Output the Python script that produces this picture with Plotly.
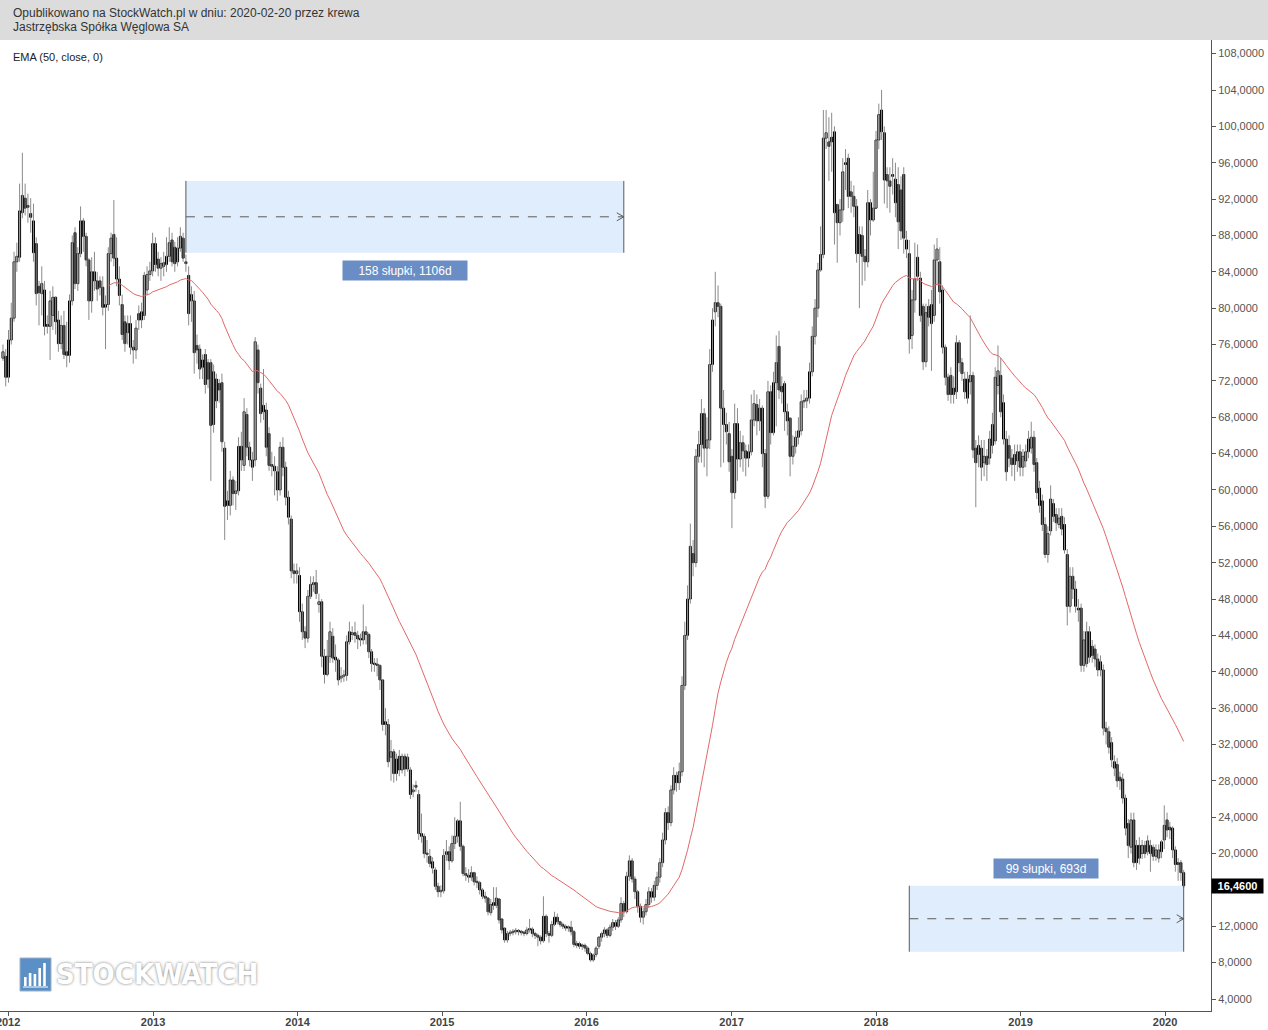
import pandas as pd
import plotly.graph_objects as go

# ---------------- data (weekly bars, JSW) ----------------
start_date = "2011-12-19"

opens = [
74.5, 74.7, 72.4, 76.5, 78.9, 85.1, 85.6, 90.5, 92.1, 91.3,
90.4, 89.6, 87.1, 82.4, 81.6, 82.0, 78.2, 78.0, 79.2, 81.2,
78.7, 76.1, 78.1, 75.2, 74.8, 80.8, 88.3, 82.7, 86.0, 89.6,
87.9, 85.3, 80.8, 84.0, 83.0, 83.0, 82.3, 80.1, 80.4, 86.0,
88.1, 85.5, 83.2, 80.4, 78.5, 77.3, 78.3, 75.7, 75.4, 79.4,
78.7, 79.2, 82.0, 83.7, 84.1, 87.1, 85.4, 84.4, 84.6, 84.8,
85.7, 87.5, 86.7, 85.1, 86.6, 87.7, 85.1, 83.6, 80.8, 80.8,
75.9, 75.5, 74.3, 74.9, 74.0, 74.0, 67.2, 72.2, 71.7, 71.8,
64.6, 58.8, 58.3, 61.1, 59.6, 59.9, 64.8, 62.7, 68.3, 64.7,
63.3, 63.3, 75.4, 71.2, 69.3, 68.8, 66.2, 62.8, 62.6, 62.0,
60.0, 64.7, 62.5, 59.2, 56.8, 51.1, 50.8, 50.6, 46.6, 44.4,
43.7, 48.3, 49.6, 49.8, 47.4, 47.7, 41.7, 39.7, 41.7, 43.9,
41.6, 41.3, 39.3, 39.5, 39.6, 43.3, 44.1, 44.3, 44.0, 43.6,
43.5, 44.4, 44.1, 42.2, 40.9, 40.8, 40.7, 39.1, 34.5, 34.2,
30.6, 31.2, 28.8, 30.7, 29.2, 30.7, 29.3, 29.2, 26.8, 27.5,
26.5, 22.2, 21.9, 20.0, 19.7, 19.1, 18.2, 16.4, 15.8, 15.9,
19.9, 20.2, 19.2, 21.1, 21.9, 23.6, 20.8, 17.8, 17.6, 17.4,
17.9, 16.9, 16.8, 16.0, 15.3, 15.1, 13.5, 14.6, 14.3, 15.0,
12.8, 11.8, 10.5, 11.2, 11.3, 11.4, 11.5, 11.4, 11.3, 11.2,
11.6, 11.7, 11.2, 11.0, 10.8, 10.4, 13.1, 11.2, 11.0, 12.2,
13.0, 12.5, 12.2, 12.0, 11.8, 11.9, 11.4, 10.1, 10.1, 9.9,
9.9, 9.6, 9.0, 8.3, 8.9, 9.8, 10.8, 11.2, 11.6, 11.0,
11.9, 12.4, 12.0, 12.7, 14.5, 13.6, 17.5, 19.2, 17.2, 15.8,
14.2, 13.0, 13.6, 14.4, 15.8, 15.2, 16.5, 17.4, 19.0, 21.5,
24.5, 23.4, 27.0, 28.6, 27.8, 29.0, 38.5, 44.0, 48.0, 53.0,
52.0, 63.7, 65.0, 68.4, 64.6, 65.5, 73.8, 79.6, 80.6, 80.2,
69.0, 67.2, 66.2, 63.7, 59.7, 67.3, 63.4, 65.2, 64.3, 63.5,
64.2, 67.7, 69.4, 67.6, 69.0, 64.0, 59.3, 70.8, 66.3, 71.8,
75.8, 71.4, 71.7, 68.6, 67.9, 63.7, 64.8, 65.8, 66.5, 69.7,
69.8, 70.1, 73.0, 76.9, 80.0, 84.2, 85.9, 98.7, 98.3, 98.8,
99.4, 91.4, 89.4, 90.8, 96.0, 96.5, 92.8, 92.3, 91.2, 88.1,
88.0, 85.7, 85.1, 91.6, 89.7, 91.0, 98.5, 101.8, 99.3, 94.7,
94.0, 94.7, 94.2, 93.6, 93.0, 94.7, 87.5, 86.0, 77.0, 80.9,
85.6, 83.3, 80.2, 74.1, 80.2, 78.3, 79.2, 85.3, 85.1, 82.0,
75.7, 72.4, 72.6, 71.2, 70.8, 76.2, 74.0, 72.2, 72.2, 71.9,
72.6, 64.6, 63.9, 64.6, 63.0, 63.7, 63.5, 64.9, 65.4, 71.5,
72.6, 69.6, 65.6, 64.9, 63.5, 62.8, 63.2, 64.2, 62.5, 63.2,
64.2, 64.6, 65.8, 63.0, 60.2, 58.8, 56.2, 52.9, 55.5, 58.5,
57.3, 56.2, 57.1, 56.2, 52.9, 47.2, 50.5, 49.1, 47.0, 47.0,
40.7, 40.9, 44.4, 42.8, 42.5, 41.4, 41.1, 40.2, 33.8, 33.4,
32.2, 30.1, 29.8, 28.4, 28.2, 26.1, 23.3, 20.7, 23.7, 20.9,
20.9, 20.0, 20.9, 20.2, 20.0, 20.7, 19.7, 19.5, 20.2, 21.5,
23.7, 22.9, 22.8, 20.4, 19.0, 19.0, 17.9,
]

highs = [
76.0, 75.5, 77.6, 80.6, 86.2, 87.2, 93.7, 97.1, 93.7, 92.6,
92.1, 91.5, 87.8, 83.0, 84.6, 83.0, 79.2, 81.9, 82.4, 81.3,
79.7, 79.2, 79.7, 78.5, 81.5, 88.0, 88.9, 86.7, 91.2, 89.9,
88.3, 85.5, 85.6, 86.2, 84.0, 83.5, 83.5, 81.4, 86.7, 88.3,
91.9, 87.8, 84.6, 81.5, 79.2, 79.2, 79.2, 76.5, 78.7, 80.3,
80.6, 84.0, 84.6, 85.1, 88.3, 87.8, 86.2, 85.6, 86.2, 87.8,
88.9, 88.3, 87.3, 87.8, 88.9, 88.3, 85.9, 84.6, 82.4, 81.9,
77.1, 76.0, 74.9, 75.5, 74.4, 74.4, 73.8, 72.8, 72.2, 72.8,
65.3, 59.9, 62.1, 61.5, 61.0, 65.8, 66.4, 70.1, 69.0, 65.3,
64.2, 76.8, 76.0, 71.7, 73.3, 69.6, 66.9, 64.2, 63.7, 62.6,
65.3, 65.8, 63.1, 59.9, 57.2, 51.9, 51.9, 51.5, 47.5, 45.0,
49.0, 50.5, 50.5, 51.2, 48.6, 48.0, 42.5, 43.5, 45.5, 44.8,
43.0, 41.5, 40.5, 40.2, 44.0, 45.5, 45.0, 45.5, 44.5, 44.2,
47.4, 45.0, 44.3, 42.5, 41.5, 41.5, 40.8, 39.2, 36.0, 34.8,
32.5, 31.5, 31.0, 31.4, 31.0, 31.0, 31.0, 29.5, 27.6, 28.0,
27.0, 24.4, 22.2, 21.5, 20.5, 19.6, 18.5, 16.8, 16.5, 20.5,
21.5, 20.8, 22.0, 24.0, 23.8, 25.7, 21.0, 18.5, 18.3, 18.6,
18.0, 17.5, 17.0, 16.2, 15.8, 15.2, 15.0, 16.3, 16.3, 15.0,
12.8, 11.8, 11.5, 11.6, 11.7, 11.8, 11.7, 11.6, 11.5, 11.9,
12.8, 11.9, 11.4, 11.2, 11.0, 15.3, 13.3, 11.5, 12.6, 13.6,
13.4, 12.6, 12.4, 12.2, 12.1, 12.6, 11.6, 10.4, 10.3, 10.1,
10.1, 9.8, 9.2, 9.0, 9.8, 10.9, 11.4, 11.9, 11.8, 12.2,
12.8, 12.7, 13.0, 15.2, 14.8, 18.0, 19.8, 19.5, 17.5, 16.0,
14.5, 14.0, 15.0, 16.3, 16.2, 17.0, 18.0, 19.5, 22.3, 25.0,
25.2, 27.5, 29.5, 29.0, 30.0, 39.5, 45.5, 49.5, 56.3, 54.5,
64.5, 66.5, 70.0, 69.0, 68.0, 75.5, 80.0, 84.0, 82.5, 80.5,
71.0, 68.5, 67.5, 64.5, 69.5, 69.0, 66.5, 66.0, 65.0, 65.0,
70.5, 71.0, 70.5, 70.0, 69.3, 64.5, 72.0, 71.5, 73.0, 77.0,
77.5, 72.5, 72.0, 69.5, 68.0, 66.0, 66.5, 68.0, 70.5, 71.0,
71.0, 74.0, 78.0, 81.0, 85.0, 89.0, 101.8, 101.8, 101.0, 101.5,
100.0, 91.5, 92.0, 96.5, 97.5, 97.0, 94.0, 93.5, 92.0, 89.0,
89.0, 86.5, 93.0, 92.0, 95.0, 99.5, 102.5, 104.0, 100.0, 95.5,
95.5, 96.5, 96.0, 95.5, 94.5, 95.5, 88.5, 87.5, 82.0, 87.2,
87.0, 84.0, 80.5, 80.5, 81.0, 82.0, 87.0, 87.7, 86.7, 82.5,
76.0, 72.8, 73.5, 72.5, 77.0, 76.5, 74.5, 73.0, 73.0, 79.2,
73.0, 65.5, 66.0, 65.5, 65.5, 64.5, 66.5, 68.5, 73.5, 75.9,
74.5, 70.5, 66.5, 66.0, 64.5, 65.0, 65.0, 65.0, 64.5, 65.0,
66.5, 67.5, 66.5, 63.5, 61.0, 59.5, 57.0, 56.0, 60.5, 59.0,
58.0, 58.0, 58.0, 57.0, 53.5, 51.5, 51.5, 50.0, 48.0, 47.5,
44.5, 45.5, 45.0, 43.5, 43.0, 42.0, 41.8, 40.8, 34.5, 34.0,
32.8, 30.8, 30.5, 29.0, 28.8, 26.5, 23.8, 24.5, 24.5, 21.5,
21.8, 21.5, 21.4, 22.0, 21.5, 21.0, 21.0, 21.0, 21.5, 25.3,
24.5, 23.5, 23.0, 20.8, 19.5, 19.3, 18.2,
]

lows = [
74.2, 71.4, 71.8, 76.0, 78.5, 84.0, 85.1, 89.9, 90.2, 89.4,
88.3, 85.1, 80.3, 78.1, 79.2, 77.0, 77.2, 74.3, 77.6, 77.1,
75.2, 75.5, 74.4, 73.5, 74.0, 80.3, 82.1, 81.9, 85.6, 86.2,
84.6, 78.7, 79.5, 81.9, 80.8, 81.4, 79.2, 75.5, 79.7, 85.1,
84.6, 82.4, 80.3, 76.5, 75.2, 76.0, 74.9, 73.9, 74.4, 77.6,
77.8, 78.7, 81.4, 83.0, 83.5, 84.0, 83.5, 83.0, 83.5, 84.0,
85.1, 84.6, 84.0, 84.6, 86.2, 85.1, 84.0, 78.1, 78.5, 72.8,
73.9, 72.2, 72.2, 70.6, 71.2, 61.0, 66.3, 69.0, 69.6, 64.2,
54.5, 56.7, 57.2, 58.3, 57.8, 59.4, 62.1, 62.1, 63.7, 62.6,
61.0, 62.6, 70.6, 67.4, 67.7, 63.7, 62.1, 61.5, 59.4, 58.8,
59.4, 61.5, 58.3, 56.2, 50.3, 49.7, 49.7, 45.5, 43.5, 42.6,
43.2, 48.0, 48.8, 48.0, 46.5, 40.5, 38.7, 39.5, 41.0, 41.0,
40.0, 38.5, 38.8, 38.9, 39.0, 43.0, 43.5, 43.2, 42.5, 42.8,
43.0, 43.0, 41.5, 40.0, 40.0, 39.5, 38.0, 33.5, 33.0, 29.5,
28.0, 27.8, 28.0, 28.5, 28.8, 28.5, 29.0, 26.0, 26.2, 26.8,
21.5, 21.2, 19.5, 19.0, 18.5, 17.8, 16.0, 15.2, 15.2, 15.6,
19.2, 18.2, 19.0, 20.5, 21.2, 20.3, 17.5, 17.0, 16.8, 17.0,
16.5, 16.2, 15.5, 15.0, 14.6, 13.2, 13.2, 13.8, 14.0, 12.3,
11.2, 10.2, 10.2, 10.9, 11.0, 11.1, 11.0, 11.0, 10.9, 11.0,
11.3, 10.8, 10.6, 9.8, 10.0, 10.2, 10.8, 10.2, 10.8, 12.0,
12.2, 11.9, 11.7, 11.5, 11.4, 11.0, 9.7, 9.6, 9.5, 9.4,
9.2, 8.8, 8.1, 8.1, 8.6, 9.5, 10.3, 10.8, 10.7, 10.8,
11.5, 11.6, 11.8, 12.4, 13.0, 13.4, 17.0, 16.8, 15.0, 13.5,
12.4, 12.2, 13.2, 14.0, 14.6, 14.8, 16.0, 16.8, 18.5, 21.0,
22.6, 23.0, 26.5, 26.8, 27.0, 28.5, 38.0, 43.5, 47.5, 50.5,
51.5, 63.0, 63.0, 62.5, 61.5, 64.5, 73.0, 78.0, 79.0, 62.5,
63.0, 65.0, 62.0, 55.8, 59.0, 61.0, 62.5, 62.0, 61.5, 62.5,
63.8, 67.0, 66.0, 66.5, 62.5, 58.0, 59.0, 65.0, 66.0, 67.0,
70.0, 69.5, 66.5, 66.0, 61.5, 62.8, 64.0, 65.0, 66.0, 69.0,
69.0, 69.5, 72.5, 76.0, 79.0, 84.0, 85.5, 97.5, 94.0, 95.0,
87.0, 85.0, 88.0, 89.5, 93.0, 91.0, 90.5, 90.0, 85.0, 80.0,
82.5, 83.0, 84.5, 88.0, 89.5, 91.0, 97.5, 98.5, 91.5, 91.0,
90.5, 92.5, 90.0, 86.5, 87.5, 86.0, 85.5, 75.0, 75.5, 79.5,
83.0, 78.5, 73.2, 73.5, 78.0, 73.1, 78.5, 82.5, 80.5, 75.0,
71.5, 69.8, 69.5, 69.5, 70.0, 73.0, 72.0, 70.0, 69.5, 70.5,
63.5, 58.1, 62.5, 61.0, 61.5, 61.0, 62.8, 64.0, 65.0, 70.5,
68.0, 65.0, 61.0, 62.5, 61.5, 61.0, 62.0, 61.5, 61.5, 62.5,
63.5, 64.0, 62.0, 59.0, 57.5, 55.5, 52.5, 52.0, 55.0, 56.5,
55.5, 55.8, 55.0, 53.0, 45.1, 46.5, 48.0, 46.5, 45.5, 40.0,
40.0, 40.5, 41.0, 41.0, 40.5, 39.5, 39.5, 33.0, 32.0, 31.0,
29.5, 28.5, 27.3, 27.0, 25.5, 22.0, 19.5, 20.0, 18.5, 18.2,
18.8, 19.4, 19.5, 19.8, 18.0, 19.2, 19.2, 19.0, 19.5, 20.5,
21.8, 21.6, 19.5, 18.0, 17.0, 17.0, 16.2,
]

closes = [
75.2, 72.4, 76.5, 78.9, 85.1, 85.7, 90.7, 92.4, 91.0, 91.1,
90.0, 86.1, 81.6, 81.7, 82.7, 78.0, 78.0, 80.8, 81.2, 78.5,
76.1, 78.1, 74.9, 74.8, 80.8, 87.2, 82.7, 86.0, 89.6, 87.9,
85.3, 80.8, 84.0, 83.0, 82.1, 82.3, 80.1, 80.4, 86.0, 87.7,
85.5, 83.2, 81.4, 77.1, 76.1, 78.3, 75.7, 75.4, 77.8, 78.7,
79.6, 83.6, 83.7, 84.1, 87.1, 84.8, 84.4, 84.9, 85.0, 85.7,
87.2, 85.1, 84.9, 86.6, 87.9, 85.5, 84.9, 79.4, 81.5, 75.1,
75.4, 73.3, 73.5, 71.6, 72.2, 67.1, 73.0, 69.8, 71.0, 65.3,
58.2, 58.3, 61.1, 59.6, 59.9, 64.8, 63.3, 68.6, 64.7, 63.3,
62.5, 76.3, 71.8, 68.4, 68.6, 64.7, 62.7, 62.6, 62.1, 60.0,
64.7, 62.5, 59.2, 57.0, 51.1, 50.8, 51.1, 46.6, 44.4, 43.7,
48.3, 49.6, 49.8, 48.6, 47.7, 41.7, 39.7, 41.7, 44.4, 41.5,
41.3, 39.1, 39.5, 39.6, 43.3, 44.4, 44.3, 44.0, 43.6, 43.5,
44.4, 44.1, 42.2, 40.9, 40.8, 40.7, 39.1, 34.2, 34.2, 30.1,
31.2, 28.8, 30.4, 29.2, 30.7, 29.3, 30.6, 26.5, 27.0, 27.3,
22.2, 21.9, 20.0, 19.9, 18.9, 18.4, 16.4, 15.8, 15.9, 19.8,
20.2, 19.2, 21.1, 21.9, 23.6, 20.8, 17.8, 17.6, 17.4, 17.9,
16.9, 16.8, 16.0, 15.3, 15.1, 13.6, 14.4, 14.3, 15.1, 12.7,
11.6, 10.5, 11.2, 11.3, 11.4, 11.5, 11.4, 11.3, 11.2, 11.6,
11.7, 11.2, 11.0, 10.8, 10.4, 13.1, 11.2, 11.0, 12.2, 13.0,
12.5, 12.2, 12.0, 11.8, 11.9, 11.4, 10.0, 9.9, 9.8, 9.8,
9.6, 9.0, 8.3, 8.85, 9.6, 10.8, 11.2, 11.6, 11.0, 11.9,
12.4, 12.0, 12.7, 14.5, 13.6, 17.5, 19.2, 17.2, 15.8, 14.2,
13.0, 13.6, 14.4, 15.8, 15.2, 16.5, 17.4, 19.0, 21.5, 24.5,
23.4, 27.0, 28.6, 27.8, 29.0, 38.5, 44.0, 48.0, 53.8, 52.0,
63.7, 65.0, 68.4, 64.6, 65.5, 73.8, 78.7, 80.6, 80.2, 69.0,
67.2, 66.4, 63.1, 59.7, 67.3, 63.4, 65.2, 64.3, 63.5, 64.2,
67.7, 69.5, 67.6, 69.0, 64.0, 59.3, 70.8, 66.3, 71.8, 74.0,
71.0, 70.8, 68.6, 67.6, 63.7, 64.8, 65.8, 66.5, 69.7, 69.8,
70.1, 73.0, 76.9, 80.0, 84.2, 85.9, 98.7, 99.3, 97.8, 98.3,
90.5, 89.4, 90.8, 95.0, 95.8, 92.3, 92.3, 91.2, 86.0, 86.0,
85.7, 85.1, 91.6, 89.7, 91.0, 98.5, 101.3, 99.4, 94.1, 94.0,
93.4, 94.5, 91.6, 89.5, 88.5, 87.7, 86.5, 76.6, 80.9, 83.2,
83.5, 79.2, 74.1, 79.5, 79.0, 80.4, 85.3, 86.5, 81.8, 75.7,
72.4, 70.5, 70.5, 70.5, 76.2, 74.0, 72.8, 70.8, 70.1, 72.6,
64.4, 63.0, 64.9, 62.5, 63.7, 62.8, 65.6, 67.2, 72.4, 73.1,
68.6, 65.6, 62.0, 63.5, 62.8, 63.9, 64.2, 62.5, 63.7, 64.2,
65.6, 65.8, 62.8, 59.7, 58.3, 56.2, 52.9, 55.2, 59.0, 57.1,
56.4, 56.9, 55.7, 53.4, 47.2, 50.5, 49.1, 47.2, 46.8, 40.7,
43.5, 44.4, 41.6, 41.8, 41.4, 40.2, 40.2, 33.8, 33.4, 31.7,
30.3, 29.4, 28.0, 28.0, 26.1, 22.8, 20.9, 23.7, 19.0, 19.0,
19.5, 20.9, 20.0, 21.4, 20.9, 19.7, 20.4, 20.4, 21.3, 23.1,
22.6, 22.6, 20.4, 18.8, 18.8, 17.9, 16.46,
]

year_ticks = [2012, 2013, 2014, 2015, 2016, 2017, 2018, 2019, 2020]
price_ticks = [4, 8, 12, 20, 24, 28, 32, 36, 40, 44, 48, 52, 56, 60, 64,
               68, 72, 76, 80, 84, 88, 92, 96, 100, 104, 108]

ema_period = 50
ema_first_shown = 38

ruler1 = dict(start=66, bars=158, days=1106, y0=86.1, y1=94.0, label_y=84.1)
ruler2 = dict(start=327, bars=99, days=693, y0=9.2, y1=closes[-1], label_y=18.4)

# ---------------- derived ----------------
dates = pd.date_range(start_date, periods=len(closes), freq="7D")
n = len(closes)

alpha = 2.0 / (ema_period + 1)
ema = []
prev = sum(closes[:ema_period]) / ema_period
for c in closes:
    prev = alpha * c + (1 - alpha) * prev
    ema.append(prev)

wx, wy = [], []
for d, lo, hi in zip(dates, lows, highs):
    wx += [d, d, None]
    wy += [lo, hi, None]

up_x, up_base, up_h, dn_x, dn_base, dn_h = [], [], [], [], [], []
for d, o, c in zip(dates, opens, closes):
    lo_b, h_b = min(o, c), max(abs(c - o), 0.15)
    if c >= o:
        up_x.append(d); up_base.append(lo_b); up_h.append(h_b)
    else:
        dn_x.append(d); dn_base.append(lo_b); dn_h.append(h_b)

# ---------------- figure ----------------
W, H = 1268, 1030
ML, MR, MT, MB = 0, 57, 40, 19
PW, PH = W - ML - MR, H - MT - MB


def pxx(p):
    return (p - ML) / PW


def pxy(p):
    return (H - MB - p) / PH


body_w = 5.0 * 86400000  # ms

fig = go.Figure()

fig.add_trace(go.Scatter(x=wx, y=wy, mode="lines",
                         line=dict(color="#8a8a8a", width=1),
                         hoverinfo="skip", showlegend=False))
fig.add_trace(go.Bar(x=up_x, y=up_h, base=up_base, width=body_w,
                     marker=dict(color="#ffffff", line=dict(color="#000000", width=1)),
                     hoverinfo="skip", showlegend=False))
fig.add_trace(go.Bar(x=dn_x, y=dn_h, base=dn_base, width=body_w,
                     marker=dict(color="#000000", line=dict(color="#000000", width=1)),
                     hoverinfo="skip", showlegend=False))
fig.add_trace(go.Scatter(x=dates[ema_first_shown:], y=ema[ema_first_shown:],
                         mode="lines", line=dict(color="#e26868", width=1),
                         hoverinfo="skip", showlegend=False))

shapes = []
annotations = []

# header band
shapes.append(dict(type="rect", xref="paper", yref="paper",
                   x0=pxx(0), x1=pxx(W), y0=pxy(MT), y1=pxy(0),
                   fillcolor="#dcdcdc", line=dict(width=0), layer="below"))

hdr_font = dict(family="Arial, Liberation Sans, sans-serif", size=12, color="#333333")
annotations.append(dict(xref="paper", yref="paper", x=pxx(11), y=pxy(13),
                        xanchor="left", yanchor="middle", showarrow=False,
                        text="Opublikowano na StockWatch.pl w dniu: 2020-02-20 przez krewa",
                        font=hdr_font))
annotations.append(dict(xref="paper", yref="paper", x=pxx(11), y=pxy(27),
                        xanchor="left", yanchor="middle", showarrow=False,
                        text="Jastrzębska Spółka Węglowa SA", font=hdr_font))
annotations.append(dict(xref="paper", yref="paper", x=pxx(11), y=pxy(57),
                        xanchor="left", yanchor="middle", showarrow=False,
                        text="EMA (50, close, 0)",
                        font=dict(family="Arial, Liberation Sans, sans-serif",
                                  size=11, color="#222222")))

# rulers
for r in (ruler1, ruler2):
    x0 = dates[r["start"]]
    x1 = dates[r["start"] + r["bars"]] if r["start"] + r["bars"] < n else dates[-1]
    ymid = (r["y0"] + r["y1"]) / 2
    shapes.append(dict(type="rect", xref="x", yref="y", x0=x0, x1=x1,
                       y0=r["y0"], y1=r["y1"], fillcolor="#dfedfc",
                       line=dict(width=0), layer="below"))
    for xe in (x0, x1):
        shapes.append(dict(type="line", xref="x", yref="y", x0=xe, x1=xe,
                           y0=r["y0"], y1=r["y1"],
                           line=dict(color="#5a5a5a", width=1)))
    shapes.append(dict(type="line", xref="x", yref="y", x0=x0, x1=x1,
                       y0=ymid, y1=ymid,
                       line=dict(color="#5a5a5a", width=1, dash="dash")))
    shapes.append(dict(type="path", xref="x", yref="y",
                       xsizemode="pixel", ysizemode="pixel",
                       xanchor=str(pd.Timestamp(x1).date()), yanchor=ymid,
                       path="M -7 -4 L 0 0 L -7 4",
                       line=dict(color="#5a5a5a", width=1)))
    xmid = pd.Timestamp(x0) + (pd.Timestamp(x1) - pd.Timestamp(x0)) / 2
    annotations.append(dict(xref="x", yref="y", x=xmid, y=r["label_y"],
                            showarrow=False,
                            text=f"{r['bars']} słupki, {r['days']}d",
                            bgcolor="#6b8dc5", borderpad=3,
                            width=(118 if r["bars"] > 100 else 98), height=13,
                            font=dict(family="Arial, Liberation Sans, sans-serif",
                                      size=12, color="#ffffff")))

# last price tag
annotations.append(dict(xref="paper", yref="y", x=1.0, y=closes[-1],
                        xanchor="left", yanchor="middle", showarrow=False,
                        text="<b>" + f"{closes[-1]:.4f}".replace(".", ",") + "</b>",
                        bgcolor="#000000", borderpad=1, width=49, height=12,
                        font=dict(family="Arial, Liberation Sans, sans-serif",
                                  size=11, color="#ffffff")))

# watermark logo
shapes.append(dict(type="rect", xref="paper", yref="paper",
                   x0=pxx(20), x1=pxx(51), y0=pxy(991), y1=pxy(958),
                   fillcolor="#4a84c2", line=dict(color="#8fa9c4", width=1),
                   opacity=0.9))
for k, hgt in enumerate([9, 13, 12, 18, 23]):
    bx = 24 + k * 4.8
    shapes.append(dict(type="rect", xref="paper", yref="paper",
                       x0=pxx(bx), x1=pxx(bx + 2.6), y0=pxy(986), y1=pxy(986 - hgt),
                       fillcolor="#ffffff", line=dict(width=0)))
shapes.append(dict(type="line", xref="paper", yref="paper",
                   x0=pxx(23), x1=pxx(48), y0=pxy(987), y1=pxy(987),
                   line=dict(color="#ffffff", width=1)))
annotations.append(dict(xref="paper", yref="paper", x=pxx(54), y=pxy(974),
                        xanchor="left", yanchor="middle", showarrow=False,
                        text="<b>STOCKWATCH</b>",
                        font=dict(family="DejaVu Sans Condensed, Liberation Sans Narrow, Liberation Sans, Arial",
                                  size=29, color="#ffffff",
                                  shadow="0px 0px 3px rgba(0,0,0,0.55)")))

fig.update_layout(
    width=W, height=H,
    margin=dict(l=ML, r=MR, t=MT, b=MB, pad=0),
    paper_bgcolor="#ffffff", plot_bgcolor="#ffffff",
    showlegend=False, hovermode=False, barmode="overlay",
    shapes=shapes, annotations=annotations,
    xaxis=dict(type="date", range=["2011-12-11 12:00", "2020-04-26"],
               rangeslider=dict(visible=False),
               tickvals=[f"{y}-01-01" for y in year_ticks],
               ticktext=[f"<b>{y}</b>" for y in year_ticks],
               showgrid=False, zeroline=False, showline=True,
               linecolor="#555555", linewidth=1, ticks="outside",
               ticklen=4, tickcolor="#555555", automargin=False,
               ticklabeloverflow="allow", ticklabelstandoff=-3,
               tickfont=dict(family="Arial, Liberation Sans, sans-serif",
                             size=11, color="#444444")),
    yaxis=dict(side="right", range=[2.68, 109.5],
               tickvals=price_ticks,
               ticktext=[f"{v},0000" for v in price_ticks],
               showgrid=False, zeroline=False, showline=True,
               linecolor="#555555", linewidth=1, ticks="outside",
               ticklen=4, tickcolor="#555555", automargin=False,
               tickfont=dict(family="Arial, Liberation Sans, sans-serif",
                             size=11, color="#555555")),
)

fig.write_html("out.html",
               config={"displayModeBar": False},
               post_script="document.body.style.margin='0px';document.body.style.overflow='hidden';")
